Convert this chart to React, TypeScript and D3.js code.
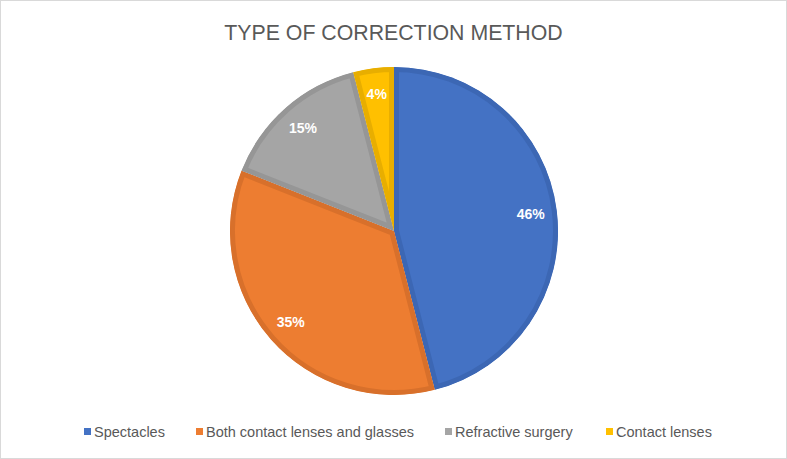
import React, { useRef, useEffect } from 'react';
import * as d3 from 'd3';

const categories = ['Spectacles', 'Both contact lenses and glasses', 'Refractive surgery', 'Contact lenses'];
const values = [46, 35, 15, 4];
const fills = ['#4472C4', '#ED7D31', '#A5A5A5', '#FFC000'];
const strokes = ['#3C67B4', '#D8702B', '#969696', '#E8AE00'];
const legendX = [84, 196, 445, 606];

const App = () => {
  const ref = useRef<SVGSVGElement>(null);
  const width = 787;
  const height = 459;

  useEffect(() => {
    const svg = d3.select(ref.current);
    svg.selectAll('*').remove();

    svg.append('rect')
      .attr('x', 0.5).attr('y', 0.5)
      .attr('width', width - 1).attr('height', height - 1)
      .attr('fill', '#fff')
      .attr('stroke', '#d9d9d9');

    svg.append('text')
      .attr('x', width / 2)
      .attr('y', 40)
      .attr('text-anchor', 'middle')
      .attr('font-family', 'Liberation Sans, Arial, sans-serif')
      .attr('font-size', 21.3)
      .attr('fill', '#595959')
      .text('TYPE OF CORRECTION METHOD');

    const cx = 394, cy = 231, r = 164;
    const data = categories.map((c, i) => ({ name: c, value: values[i], i }));
    const pie = d3.pie<any>().value(d => d.value).sort(null);
    const arc = d3.arc<any>().innerRadius(0).outerRadius(r);
    const labelArc = d3.arc<any>().innerRadius(r * 0.84).outerRadius(r * 0.84);

    const g = svg.append('g').attr('transform', `translate(${cx},${cy})`);
    const arcs = pie(data);

    const defs = svg.append('defs');
    defs.selectAll('clipPath')
      .data(arcs)
      .join('clipPath')
      .attr('id', d => `slice-clip-${d.data.i}`)
      .append('path')
      .attr('d', arc);

    g.selectAll('path.slice')
      .data(arcs)
      .join('path')
      .attr('class', 'slice')
      .attr('d', arc)
      .attr('clip-path', d => `url(#slice-clip-${d.data.i})`)
      .attr('fill', d => fills[d.data.i])
      .attr('stroke', d => strokes[d.data.i])
      .attr('stroke-width', 10)
      .attr('stroke-linejoin', 'round');

    g.selectAll('text.lbl')
      .data(arcs)
      .join('text')
      .attr('class', 'lbl')
      .attr('transform', d => `translate(${labelArc.centroid(d)})`)
      .attr('text-anchor', 'middle')
      .attr('dy', '0.36em')
      .attr('font-family', 'Liberation Sans, Arial, sans-serif')
      .attr('font-weight', 'bold')
      .attr('font-size', 14)
      .attr('fill', '#fff')
      .text(d => `${d.data.value}%`);

    const legend = svg.append('g');
    const items = legend.selectAll('g')
      .data(data)
      .join('g')
      .attr('transform', d => `translate(${legendX[d.i]},432)`);
    items.append('rect')
      .attr('x', 0).attr('y', -4)
      .attr('width', 7).attr('height', 7)
      .attr('fill', d => fills[d.i]);
    items.append('text')
      .attr('x', 10)
      .attr('y', 5)
      .attr('font-family', 'Liberation Sans, Arial, sans-serif')
      .attr('font-size', 14.5)
      .attr('fill', '#595959')
      .text(d => d.name);
  }, []);

  return (
    <svg ref={ref} width={width} height={height} style={{ position: 'absolute', left: 0, top: 0 }} />
  );
};

export default App;
